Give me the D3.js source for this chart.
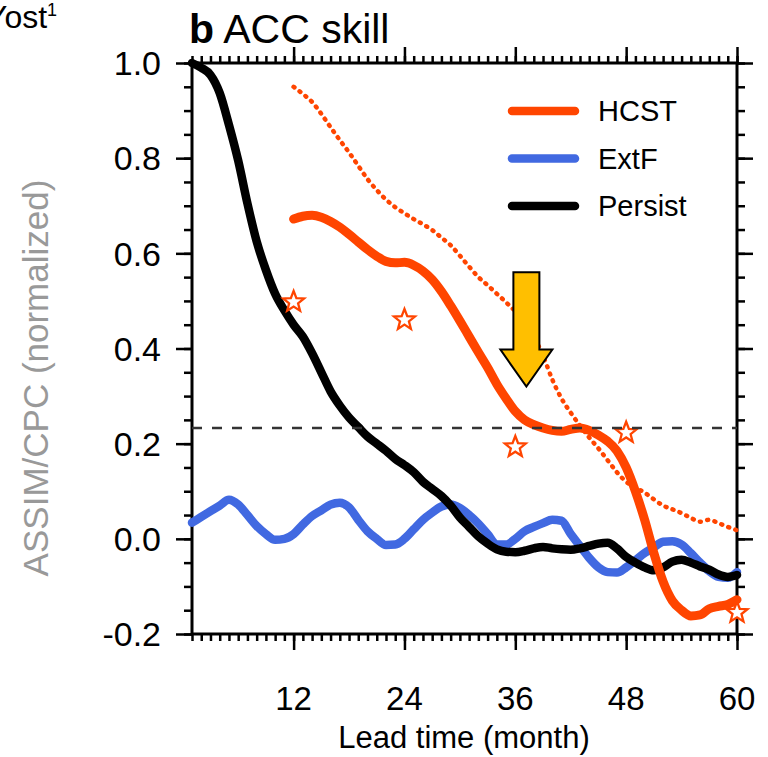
<!DOCTYPE html>
<html>
<head>
<meta charset="utf-8">
<script src="https://cdn.jsdelivr.net/npm/d3@7"></script>
<style>
  body { margin: 0; background: #fff; }
  svg { display: block; font-family: 'Liberation Sans', Arial, Helvetica, sans-serif; }
</style>
</head>
<body>
<div id="chart"></div>
<script>
// lead months 1..60
var months = d3.range(1, 61)

var persist = [1.00, 0.99, 0.975, 0.937, 0.87, 0.795, 0.705, 0.625, 0.565, 0.515,
  0.48, 0.45, 0.425, 0.39, 0.35, 0.31, 0.28, 0.255, 0.235, 0.215,
  0.20, 0.185, 0.168, 0.155, 0.14, 0.12, 0.105, 0.09, 0.07, 0.045,
  0.025, 0.005, -0.01, -0.022, -0.027, -0.028, -0.025, -0.02, -0.017, -0.02,
  -0.022, -0.023, -0.02, -0.015, -0.01, -0.008, -0.02, -0.038, -0.05, -0.06,
  -0.066, -0.06, -0.048, -0.044, -0.05, -0.058, -0.065, -0.075, -0.08, -0.076]

var extF = [0.034, 0.046, 0.058, 0.07, 0.082, 0.072, 0.05, 0.027, 0.01, -0.002,
  0.0, 0.01, 0.03, 0.048, 0.06, 0.072, 0.076, 0.066, 0.04, 0.016,
  0.0, -0.013, -0.012, 0.0, 0.02, 0.04, 0.055, 0.068, 0.072, 0.065,
  0.05, 0.032, 0.01, -0.012, -0.012, 0.0, 0.016, 0.025, 0.033, 0.04,
  0.038, 0.01, -0.015, -0.04, -0.06, -0.07, -0.071, -0.06, -0.045, -0.03,
  -0.018, -0.006, -0.005, -0.012, -0.03, -0.05, -0.068, -0.08, -0.082, -0.07]

// hindcast starts at month 12
var hcstMonths = d3.range(12, 61)
var hcst = [0.672, 0.678, 0.68, 0.676, 0.667, 0.655, 0.64, 0.624, 0.608, 0.594,
  0.583, 0.58, 0.581, 0.575, 0.563, 0.545, 0.52, 0.49, 0.458, 0.425,
  0.392, 0.36, 0.325, 0.295, 0.268, 0.25, 0.24, 0.233, 0.228, 0.226,
  0.23, 0.233, 0.228, 0.218, 0.205, 0.185, 0.15, 0.1, 0.04, -0.03,
  -0.09, -0.13, -0.15, -0.162, -0.16, -0.147, -0.142, -0.138, -0.128]

var hcstDotted = [0.95, 0.935, 0.918, 0.893, 0.865, 0.838, 0.812, 0.784, 0.756, 0.733,
  0.713, 0.697, 0.684, 0.672, 0.661, 0.649, 0.633, 0.617, 0.595, 0.572,
  0.55, 0.533, 0.515, 0.497, 0.478, 0.455, 0.425, 0.385, 0.335, 0.295,
  0.265, 0.238, 0.213, 0.19, 0.165, 0.14, 0.12, 0.108, 0.097, 0.083,
  0.07, 0.062, 0.054, 0.044, 0.036, 0.04, 0.033, 0.025, 0.018]

var starMonths = [12, 24, 36, 48, 60]
var starValues = [0.498, 0.46, 0.193, 0.223, -0.155]

var threshold = 0.233
var arrow = {month: 37.2, top: 0.56, tip: 0.32}

var xTicks = [12, 24, 36, 48, 60]
var yTicks = [-0.2, 0, 0.2, 0.4, 0.6, 0.8, 1.0]

var legendNames = ['HCST', 'ExtF', 'Persist']
var legendColors = ['#ff4500', '#4169e1', '#000']

var margin = {left: 192, right: 31, top: 63, bottom: 123}
var width = 768 - margin.left - margin.right
var height = 757 - margin.top - margin.bottom

var svg = d3.select('#chart').append('svg')
  .attr('width', 768).attr('height', 757)

var g = svg.append('g')
  .attr('transform', `translate(${margin.left},${margin.top})`)

var x = d3.scaleLinear().domain([1, 60]).range([0, width])
var y = d3.scaleLinear().domain([-0.2, 1.0]).range([height, 0])

// axes: minor + major ticks on all four sides, pointing outward
function ticks(axisFn, scale, vals, size){
  return axisFn(scale).tickValues(vals).tickSize(size).tickSizeOuter(0).tickFormat('')
}
var minorX = d3.range(1, 61)
var minorY = d3.range(-0.2, 1.0001, 0.05)

var axisSpecs = [
  [d3.axisBottom, x, minorX, 7, `translate(0,${height})`],
  [d3.axisBottom, x, xTicks, 16, `translate(0,${height})`],
  [d3.axisTop, x, minorX, 7, 'translate(0,0)'],
  [d3.axisTop, x, xTicks, 16, 'translate(0,0)'],
  [d3.axisLeft, y, minorY, 8, 'translate(0,0)'],
  [d3.axisLeft, y, yTicks, 16, 'translate(0,0)'],
  [d3.axisRight, y, minorY, 8, `translate(${width},0)`],
  [d3.axisRight, y, yTicks, 16, `translate(${width},0)`],
]
axisSpecs.forEach(s => {
  var ax = g.append('g').attr('transform', s[4]).call(ticks(s[0], s[1], s[2], s[3]))
  ax.select('.domain').remove()
  ax.selectAll('line').attr('stroke', '#000').attr('stroke-width', 2.5)
})

// frame
g.append('rect')
  .attr('width', width).attr('height', height)
  .attr('fill', 'none').attr('stroke', '#000').attr('stroke-width', 3)

// tick labels
g.selectAll('text.xlab').data(xTicks).join('text')
  .attr('x', d => x(d)).attr('y', height + 76)
  .attr('text-anchor', 'middle').attr('font-size', 33)
  .text(d => d)

g.selectAll('text.ylab').data(yTicks).join('text')
  .attr('x', -31).attr('y', d => y(d)).attr('dy', '0.36em')
  .attr('text-anchor', 'end').attr('font-size', 34)
  .text(d => d3.format('.1f')(d).replace('−', '-'))

// axis titles
svg.append('text')
  .attr('x', 464).attr('y', 748)
  .attr('text-anchor', 'middle').attr('font-size', 31)
  .text('Lead time (month)')

svg.append('text')
  .attr('transform', 'translate(48,378) rotate(-90)')
  .attr('text-anchor', 'middle').attr('font-size', 35).attr('fill', '#999')
  .text('ASSIM/CPC (normalized)')

// title
var title = svg.append('text').attr('x', 189).attr('y', 43).attr('font-size', 41)
title.append('tspan').attr('font-weight', 'bold').text('b')
title.append('tspan').text(' ACC skill')

// neighbour panel title, clipped at the left edge as in the source figure
var cut = svg.append('text').attr('x', -14).attr('y', 28).attr('font-size', 32)
cut.append('tspan').text('Yost')
cut.append('tspan').attr('font-size', 18).attr('dy', -12).text('1')

var line = d3.line()
  .x(d => x(d[0])).y(d => y(d[1]))
  .curve(d3.curveMonotoneX)

g.append('path').datum(d3.zip(months, extF))
  .attr('d', line).attr('fill', 'none')
  .attr('stroke', '#4169e1').attr('stroke-width', 8.5)
  .attr('stroke-linecap', 'round').attr('stroke-linejoin', 'round')

g.append('path').datum(d3.zip(months, persist))
  .attr('d', line).attr('fill', 'none')
  .attr('stroke', '#000').attr('stroke-width', 8.5)
  .attr('stroke-linecap', 'round').attr('stroke-linejoin', 'round')

g.append('path').datum(d3.zip(hcstMonths, hcstDotted))
  .attr('d', line).attr('fill', 'none')
  .attr('stroke', '#ff4500').attr('stroke-width', 4.5)
  .attr('stroke-dasharray', '1,6.5').attr('stroke-linecap', 'round')

// hollow stars (under the hindcast line, as in the source)
function starPath(R, r){
  var pts = d3.range(10).map(i => {
    var a = -Math.PI/2 + i*Math.PI/5
    var rad = i % 2 ? r : R
    return [rad*Math.cos(a), rad*Math.sin(a)]
  })
  return 'M' + pts.join('L') + 'Z'
}
g.selectAll('path.star').data(d3.zip(starMonths, starValues)).join('path')
  .attr('d', starPath(11, 4.7))
  .attr('transform', d => `translate(${x(d[0])},${y(d[1])})`)
  .attr('fill', '#fff').attr('stroke', '#ff4500').attr('stroke-width', 2.3)

g.append('path').datum(d3.zip(hcstMonths, hcst))
  .attr('d', line).attr('fill', 'none')
  .attr('stroke', '#ff4500').attr('stroke-width', 9)
  .attr('stroke-linecap', 'round').attr('stroke-linejoin', 'round')

// significance level
g.append('line')
  .attr('x1', 0).attr('x2', width)
  .attr('y1', y(threshold)).attr('y2', y(threshold))
  .attr('stroke', '#333').attr('stroke-width', 2.5)
  .attr('stroke-dasharray', '10,10')

// golden arrow
var ax0 = x(arrow.month), yTop = y(arrow.top), yTip = y(arrow.tip)
var shaftW = 13, headW = 26, headH = 37
g.append('path')
  .attr('d', [[ax0 - shaftW, yTop], [ax0 + shaftW, yTop], [ax0 + shaftW, yTip - headH],
    [ax0 + headW, yTip - headH], [ax0, yTip], [ax0 - headW, yTip - headH],
    [ax0 - shaftW, yTip - headH]].map((p, i) => (i ? 'L' : 'M') + p).join('') + 'Z')
  .attr('fill', '#ffbf00').attr('stroke', '#000').attr('stroke-width', 2)

// legend
var leg = g.selectAll('g.leg').data(legendNames).join('g')
  .attr('transform', (d, i) => `translate(${320},${48 + i*47.5})`)
leg.append('line')
  .attr('x1', 0).attr('x2', 63)
  .attr('stroke', (d, i) => legendColors[i]).attr('stroke-width', 8.5)
  .attr('stroke-linecap', 'round')
leg.append('text')
  .attr('x', 86).attr('dy', '0.36em').attr('font-size', 29)
  .text(d => d)
</script>
</body>
</html>
